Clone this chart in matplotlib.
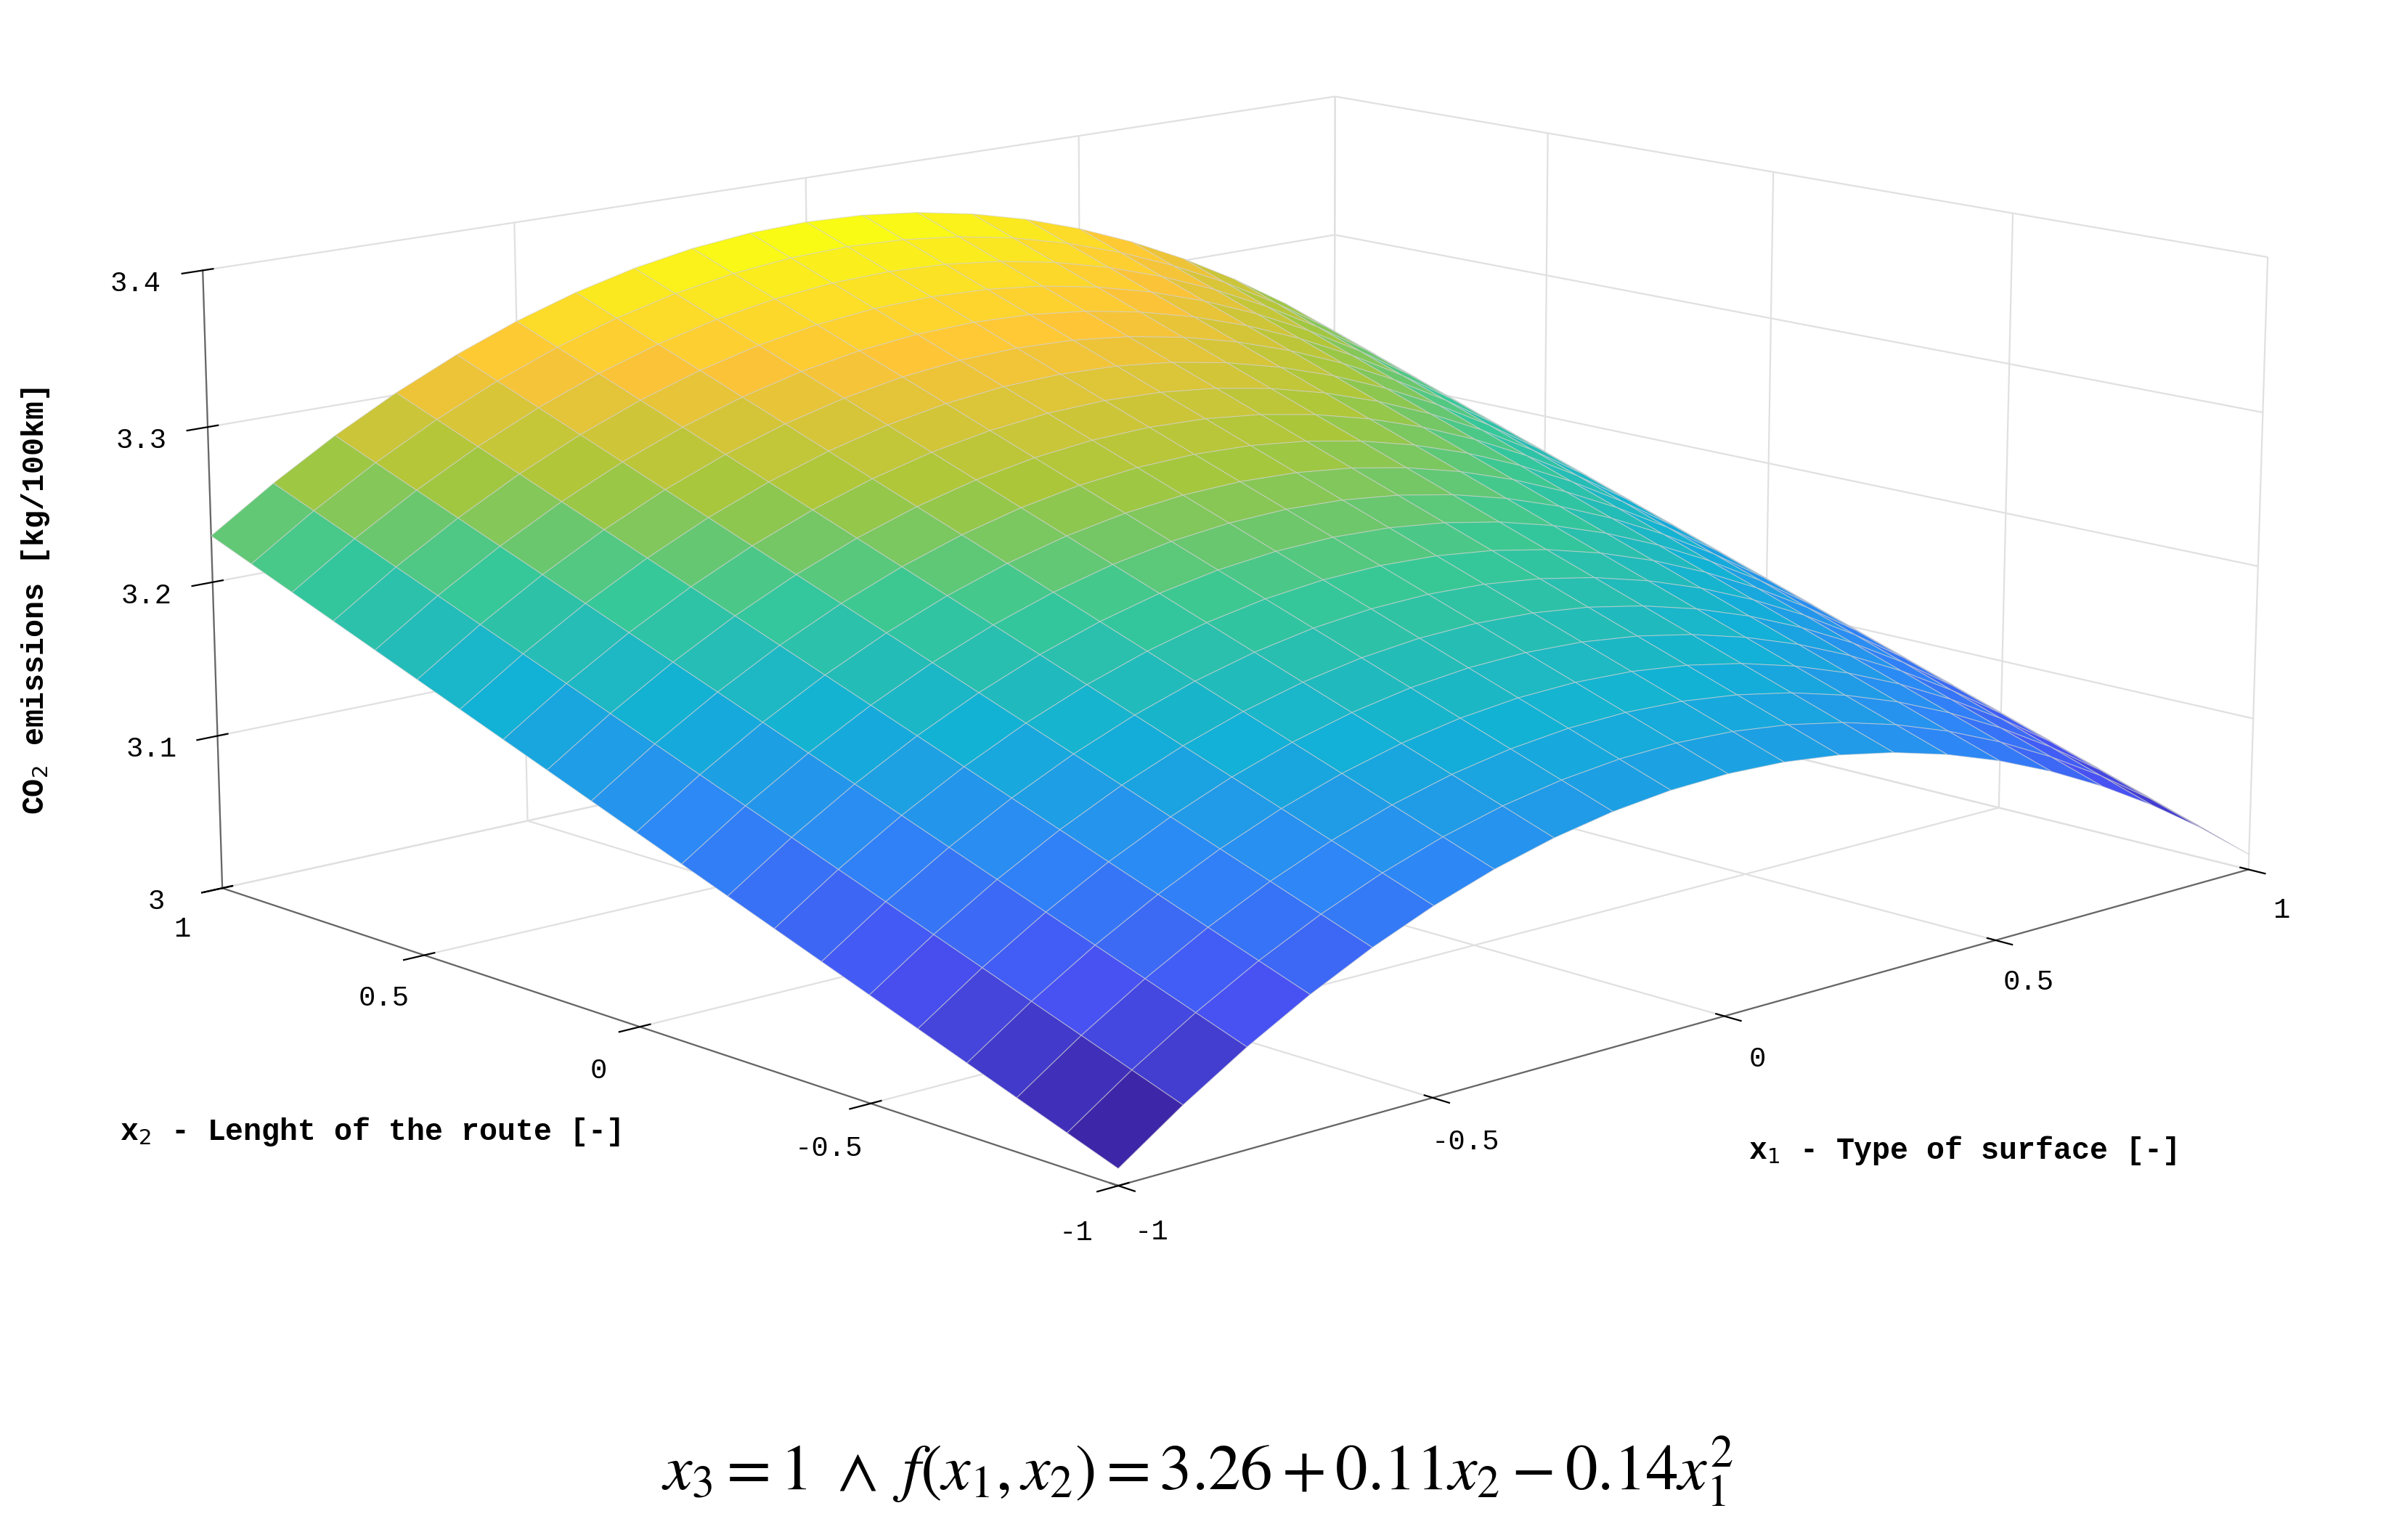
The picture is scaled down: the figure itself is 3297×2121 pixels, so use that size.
import numpy as np
import matplotlib
matplotlib.use("Agg")
import matplotlib.pyplot as plt
from matplotlib.colors import LinearSegmentedColormap

# model coefficients as printed under the chart: f = b0 + b2*x2 + b11*x1^2
b0 = 3.26
b2 = 0.11
b11 = -0.14
x1_vals = np.linspace(-1, 1, 21)
x2_vals = np.linspace(-1, 1, 21)
xy_ticks = [-1, -0.5, 0, 0.5, 1]
xy_ticklabels = ["-1", "-0.5", "0", "0.5", "1"]
z_ticks = [3, 3.1, 3.2, 3.3, 3.4]
z_ticklabels = ["3", "3.1", "3.2", "3.3", "3.4"]

parula = LinearSegmentedColormap.from_list("parula", [
    (0.2422, 0.1504, 0.6603), (0.2810, 0.3228, 0.9579), (0.1786, 0.5289, 0.9682),
    (0.0689, 0.6948, 0.8394), (0.2161, 0.7843, 0.5923), (0.6720, 0.7793, 0.2227),
    (0.9970, 0.7659, 0.2199), (0.9769, 0.9839, 0.0805)])

X1, X2 = np.meshgrid(x1_vals, x2_vals)
Z = b0 + b2 * X2 + b11 * X1 ** 2

fig = plt.figure(figsize=(16.49, 10.605), dpi=200)
ax = fig.add_axes([0.01, 0.165, 1.0, 0.9], projection="3d")
surf = ax.plot_surface(X1, X2, Z, cmap=parula, edgecolor=(0.82, 0.82, 0.82, 0.6),
                       linewidth=0.4, rstride=1, cstride=1, antialiased=True, shade=False)
surf.set_clip_on(False)
ax.view_init(elev=13, azim=-133)
ax.set_box_aspect((1.15, 1.0, 0.47), zoom=1.5)
ax.set_xlim(-1, 1); ax.set_ylim(-1, 1); ax.set_zlim(3, 3.4)
mono = "Liberation Mono"
ax.set_xticks(xy_ticks); ax.set_xticklabels(xy_ticklabels, fontfamily=mono, fontsize=14)
ax.set_yticks(xy_ticks); ax.set_yticklabels(xy_ticklabels, fontfamily=mono, fontsize=14)
ax.set_zticks(z_ticks); ax.set_zticklabels(z_ticklabels, fontfamily=mono, fontsize=14)
for a in (ax.xaxis, ax.yaxis, ax.zaxis):
    a.set_pane_color((1, 1, 1, 1))
    a._axinfo["grid"]["color"] = (0.88, 0.88, 0.88, 1)
    a._axinfo["grid"]["linewidth"] = 0.8
    a.line.set_color((0.4, 0.4, 0.4))
for art in ax.get_children():
    art.set_clip_on(False)

lab = dict(fontfamily=mono, fontweight="bold", fontsize=15)
fig.text(0.05, 0.265, r"x$_2$ - Lenght of the route [-]", ha="left", va="center", **lab)
fig.text(0.73, 0.253, r"x$_1$ - Type of surface [-]", ha="left", va="center", **lab)
fig.text(0.015, 0.61, r"CO$_2$ emissions [kg/100km]", ha="center", va="center", rotation=90, **lab)

plt.rcParams["mathtext.fontset"] = "stix"
fig.text(0.5, 0.045, r"$x_3 = 1\ \wedge\ f(x_1, x_2) = 3.26 + 0.11x_2 - 0.14x_1^2$",
         ha="center", va="center", fontsize=32)
fig.savefig("out.png", dpi=200)
